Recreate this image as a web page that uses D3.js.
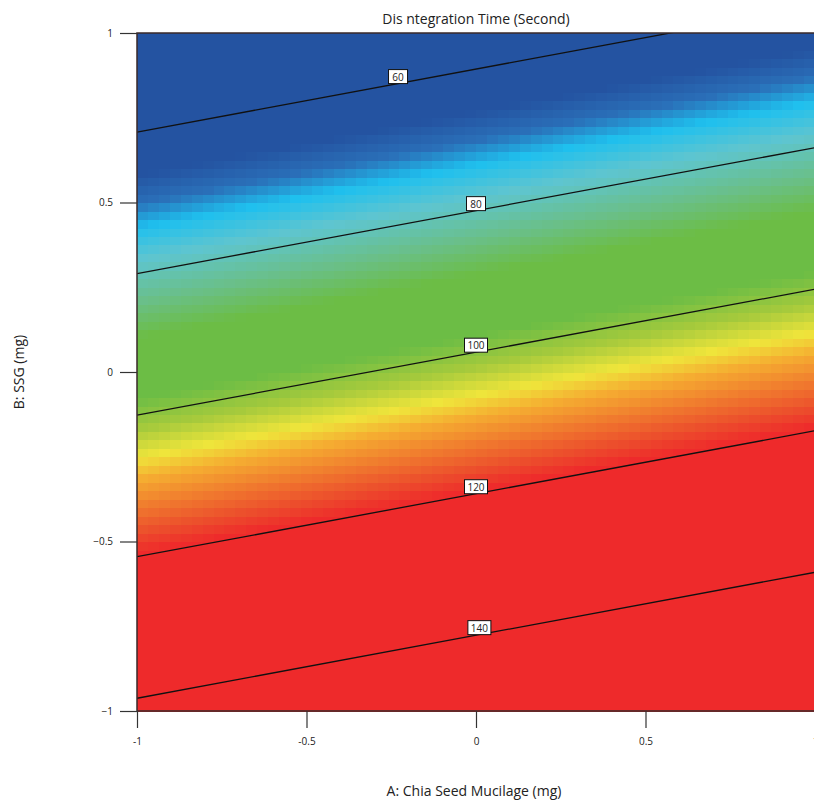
<!DOCTYPE html>
<html>
<head>
<meta charset="utf-8">
<script src="https://cdn.jsdelivr.net/npm/d3@7"></script>
<style>
  body { margin: 0; background: #fff; }
  text { font-family: "Open Sans", "Noto Sans", sans-serif; fill: #222; }
</style>
</head>
<body>
<script>
// fitted linear model: Time = b0 + bA*A + bB*B (coded units)
var modelTerms = ["Intercept", "A", "B"];
var modelCoefs = [102.8, 8.9, -47.9];

// contour levels and where their labels sit (A value)
var contourLevels = [60, 80, 100, 120, 140];
var labelA = [-0.23, 0, 0, 0, 0.01];

var xTicks = [-1, -0.5, 0, 0.5, 1];
var yTicks = [-1, -0.5, 0, 0.5, 1];

// colour map of the response
var colorStops = [66, 70, 73.5, 78, 84, 89, 97.5, 102, 106, 109, 113, 116.5, 119.5];
var colorList = ["#2453a1", "#2a6fb8", "#1fc0ee", "#5ec5d0", "#6abf88", "#6cbd45",
                 "#6cbd45", "#a6ca3c", "#efe53b", "#f5ad31", "#f07a2e", "#ec4f2c", "#ee2a2b"];

var width = 814, height = 800;

var svg = d3.select("body").append("svg")
  .attr("width", width)
  .attr("height", height);

var x = d3.scaleLinear().domain([-1, 1]).range([137, 815]);
var y = d3.scaleLinear().domain([-1, 1]).range([711, 33]);
var color = d3.scaleLinear().domain(colorStops).range(colorList).clamp(true);

function model(a, b) {
  return modelCoefs[0] + modelCoefs[1] * a + modelCoefs[2] * b;
}

// blocky filled surface
var nx = 62, ny = 80;
var cells = [];
for (var i = 0; i < nx; i++) {
  for (var j = 0; j < ny; j++) {
    var a0 = -1 + 2 * i / nx, a1 = -1 + 2 * (i + 1) / nx;
    var b0 = -1 + 2 * j / ny, b1 = -1 + 2 * (j + 1) / ny;
    cells.push({a0: a0, a1: a1, b0: b0, b1: b1, v: model((a0 + a1) / 2, (b0 + b1) / 2)});
  }
}

var g = svg.append("g");
g.selectAll("rect.cell")
  .data(cells)
  .enter()
  .append("rect")
  .attr("class", "cell")
  .attr("x", d => x(d.a0))
  .attr("y", d => y(d.b1))
  .attr("width", d => x(d.a1) - x(d.a0) + 0.6)
  .attr("height", d => y(d.b0) - y(d.b1) + 0.6)
  .attr("fill", d => color(d.v))
  .attr("shape-rendering", "crispEdges");

// contour lines
svg.append("clipPath").attr("id", "plotclip")
  .append("rect")
  .attr("x", x(-1)).attr("y", y(1))
  .attr("width", x(1) - x(-1)).attr("height", y(-1) - y(1));

var line = d3.line().x(d => x(d[0])).y(d => y(d[1]));
var lines = svg.append("g").attr("clip-path", "url(#plotclip)");
contourLevels.forEach(function(L) {
  var pts = [-1, 1].map(a => [a, (L - modelCoefs[0] - modelCoefs[1] * a) / modelCoefs[2]]);
  lines.append("path")
    .attr("d", line(pts))
    .attr("fill", "none")
    .attr("stroke", "#111")
    .attr("stroke-width", 1.3);
});

// plot frame
svg.append("path")
  .attr("d", "M" + x(1) + "," + y(1) + "H" + x(-1) + "V" + y(-1) + "H" + x(1))
  .attr("fill", "none")
  .attr("stroke", "#3a2a2a")
  .attr("stroke-width", 1.5);

// contour labels
contourLevels.forEach(function(L, k) {
  var a = labelA[k];
  var b = (L - modelCoefs[0] - modelCoefs[1] * a) / modelCoefs[2];
  var cx = x(a), cy = y(b) - 7;
  var w = String(L).length > 2 ? 23 : 19;
  var lg = svg.append("g");
  lg.append("rect")
    .attr("x", cx - w / 2).attr("y", cy - 7)
    .attr("width", w).attr("height", 14)
    .attr("fill", "#fff").attr("stroke", "#111").attr("stroke-width", 1);
  lg.append("text")
    .attr("x", cx).attr("y", cy + 4)
    .attr("text-anchor", "middle")
    .style("font-size", "10px")
    .text(L);
});

// axes
var xAxis = svg.append("g")
  .attr("transform", "translate(0," + y(-1) + ")")
  .call(d3.axisBottom(x).tickValues(xTicks).tickSize(17).tickPadding(10).tickFormat(d3.format("")));
var yAxis = svg.append("g")
  .attr("transform", "translate(" + x(-1) + ",0)")
  .call(d3.axisLeft(y).tickValues(yTicks).tickSize(17).tickPadding(7).tickFormat(d3.format("")));
[xAxis, yAxis].forEach(function(ax) {
  ax.select(".domain").remove();
  ax.selectAll(".tick line").attr("stroke", "#333").attr("stroke-width", 1.2);
  ax.selectAll(".tick text").style("font-size", "10px").attr("fill", "#222")
    .style("font-family", "'Open Sans', 'Noto Sans', sans-serif");
});
xAxis.selectAll(".tick text").text(d => d === 0 ? "0" : String(d));

// titles
svg.append("text")
  .attr("x", 476).attr("y", 24)
  .attr("text-anchor", "middle")
  .style("font-size", "14px")
  .text("Dis ntegration Time (Second)");

svg.append("text")
  .attr("x", 474).attr("y", 796)
  .attr("text-anchor", "middle")
  .style("font-size", "14px")
  .text("A: Chia Seed Mucilage (mg)");

svg.append("text")
  .attr("transform", "translate(24,372) rotate(-90)")
  .attr("text-anchor", "middle")
  .style("font-size", "14px")
  .text("B: SSG (mg)");
</script>
</body>
</html>
